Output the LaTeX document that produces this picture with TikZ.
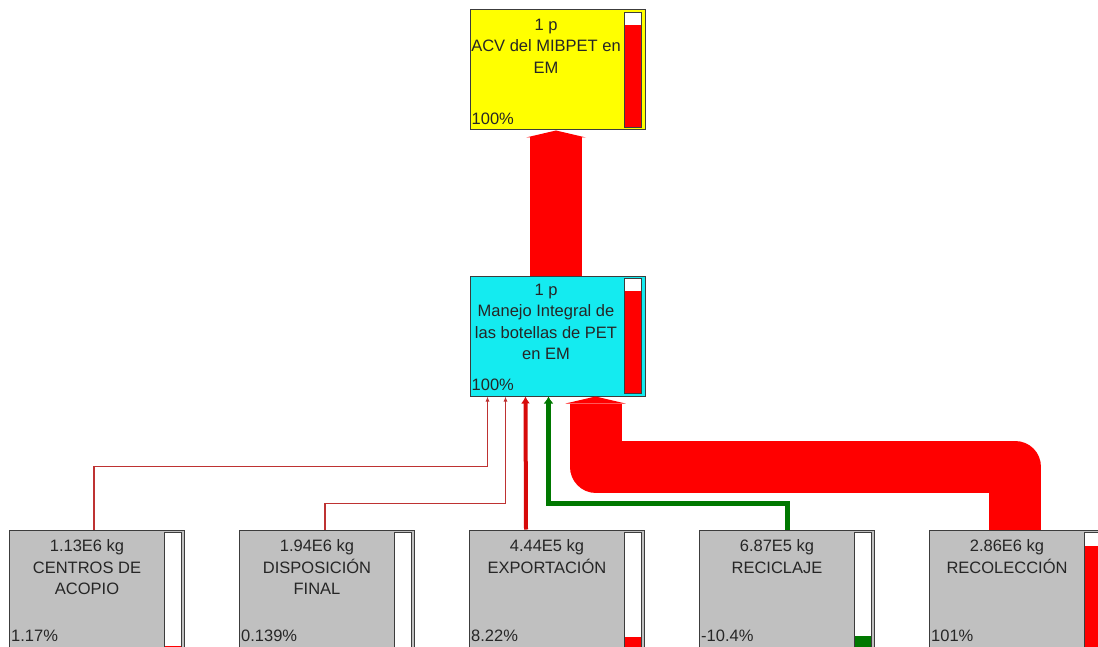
\documentclass[tikz,border=0pt]{standalone}
\usepackage{fontspec}
\setmainfont{Liberation Sans}
\usetikzlibrary{arrows.meta,calc}

\definecolor{lcaamarillo}{RGB}{255,255,0}
\definecolor{lcacian}{RGB}{20,235,240}
\definecolor{lcagris}{RGB}{192,192,192}
\definecolor{lcarojo}{RGB}{255,0,0}
\definecolor{lcaexport}{RGB}{215,10,10}
\definecolor{lcaverde}{RGB}{0,120,0}
\definecolor{lcalinea}{RGB}{190,50,50}
\definecolor{lcaborde}{RGB}{60,60,60}

% level bar at the right side of a box: node, fraction, colour
\newcommand{\nivel}[3]{%
  \fill[white] ($(#1.north east)+(-21,3)$) rectangle ($(#1.south east)+(-4,-3)$);
  \fill[#3] ($(#1.south east)+(-21,-3)$) rectangle ++(17,{-#2*114});
  \draw[lcaborde, line width=1pt] ($(#1.north east)+(-21,3)$) rectangle ($(#1.south east)+(-4,-3)$);
}

\begin{document}
\begin{tikzpicture}[x=1pt, y=-1pt, font=\fontsize{16.5}{21.5}\selectfont,
    caja/.style={draw=lcaborde, line width=1pt, minimum width=175pt, minimum height=120pt, inner sep=0pt},
    texto/.style={anchor=north, align=center, inner sep=0pt, text=black!85},
    pct/.style={anchor=base west, inner sep=0pt, text=black!85},
    flujo/.style={lcarojo, line width=52pt, line join=round,
        -{Triangle[width=60pt 0 0, length=7pt 0 0, line width=0pt 0 0, sharp]}},
    hilo/.style={lcalinea, line width=1.2pt, -{Latex[length=5pt, width=4pt]}}]
    \useasboundingbox (0,0) rectangle (1098,647);

    % Process boxes
    \node[caja, fill=lcaamarillo] (acv) at (557.5,70) {};
    \node[caja, fill=lcacian] (manejo) at (557.5,336) {};
    \node[caja, fill=lcagris] (acopio) at (97,590) {};
    \node[caja, fill=lcagris] (disposicion) at (327,590) {};
    \node[caja, fill=lcagris] (exportacion) at (557,590) {};
    \node[caja, fill=lcagris] (reciclaje) at (787,590) {};
    \node[caja, fill=lcagris] (recoleccion) at (1017,590) {};

    % Texts of the boxes
    \node[texto] (acv-t) at ($(acv.north)+(-11.5,9)$) {1 p\\ACV del MIBPET en\\EM};
    \node[texto] (manejo-t) at ($(manejo.north)+(-11.5,8)$) {1 p\\Manejo Integral de\\las botellas de PET\\en EM};
    \node[texto] (acopio-t) at ($(acopio.north)+(-10,10)$) {1.13E6 kg\\CENTROS DE\\ACOPIO};
    \node[texto] (disposicion-t) at ($(disposicion.north)+(-10,10)$) {1.94E6 kg\\DISPOSICIÓN\\FINAL};
    \node[texto] (exportacion-t) at ($(exportacion.north)+(-10,10)$) {4.44E5 kg\\EXPORTACIÓN};
    \node[texto] (reciclaje-t) at ($(reciclaje.north)+(-10,10)$) {6.87E5 kg\\RECICLAJE};
    \node[texto] (recoleccion-t) at ($(recoleccion.north)+(-10,10)$) {2.86E6 kg\\RECOLECCIÓN};

    % Percentages
    \node[pct] (acv-p) at ($(acv.south west)+(2,-6)$) {100\%};
    \node[pct] (manejo-p) at ($(manejo.south west)+(2,-6)$) {100\%};
    \node[pct] (acopio-p) at ($(acopio.south west)+(2,-9)$) {1.17\%};
    \node[pct] (disposicion-p) at ($(disposicion.south west)+(2,-9)$) {0.139\%};
    \node[pct] (exportacion-p) at ($(exportacion.south west)+(2,-9)$) {8.22\%};
    \node[pct] (reciclaje-p) at ($(reciclaje.south west)+(2,-9)$) {-10.4\%};
    \node[pct] (recoleccion-p) at ($(recoleccion.south west)+(2,-9)$) {101\%};

    % Level bars
    \nivel{acv}{0.9}{lcarojo}
    \nivel{manejo}{0.9}{lcarojo}
    \nivel{acopio}{0.01}{lcarojo}
    \nivel{disposicion}{0}{lcarojo}
    \nivel{exportacion}{0.09}{lcarojo}
    \nivel{reciclaje}{0.1}{lcaverde}
    \nivel{recoleccion}{0.89}{lcarojo}

    % Flows
    \draw[flujo] ($(manejo.north)+(-1.5,0)$) -- ($(acv.south)+(-1.5,0)$);
    \draw[flujo] ($(recoleccion.north)+(-2,0)$) |- ($(manejo.south west)+(126,70)$) -- ($(manejo.south west)+(126,0)$);
    \draw[hilo] ($(acopio.north)+(-3,0)$) |- ($(manejo.south west)+(18,70)$) -- ($(manejo.south west)+(18,0)$);
    \draw[hilo] ($(disposicion.north)+(-2,0)$) |- ($(manejo.south west)+(36,107)$) -- ($(manejo.south west)+(36,0)$);
    \draw[lcaexport, line width=4pt, -{Latex[length=7pt, width=9pt]}] ($(exportacion.north)+(-31,0)$) -- ($(manejo.south west)+(56,0)$);
    \draw[lcaverde, line width=5pt, -{Latex[length=7pt, width=10pt]}] (reciclaje.north) |- ($(manejo.south west)+(79,107)$) -- ($(manejo.south west)+(79,0)$);
\end{tikzpicture}
\end{document}
